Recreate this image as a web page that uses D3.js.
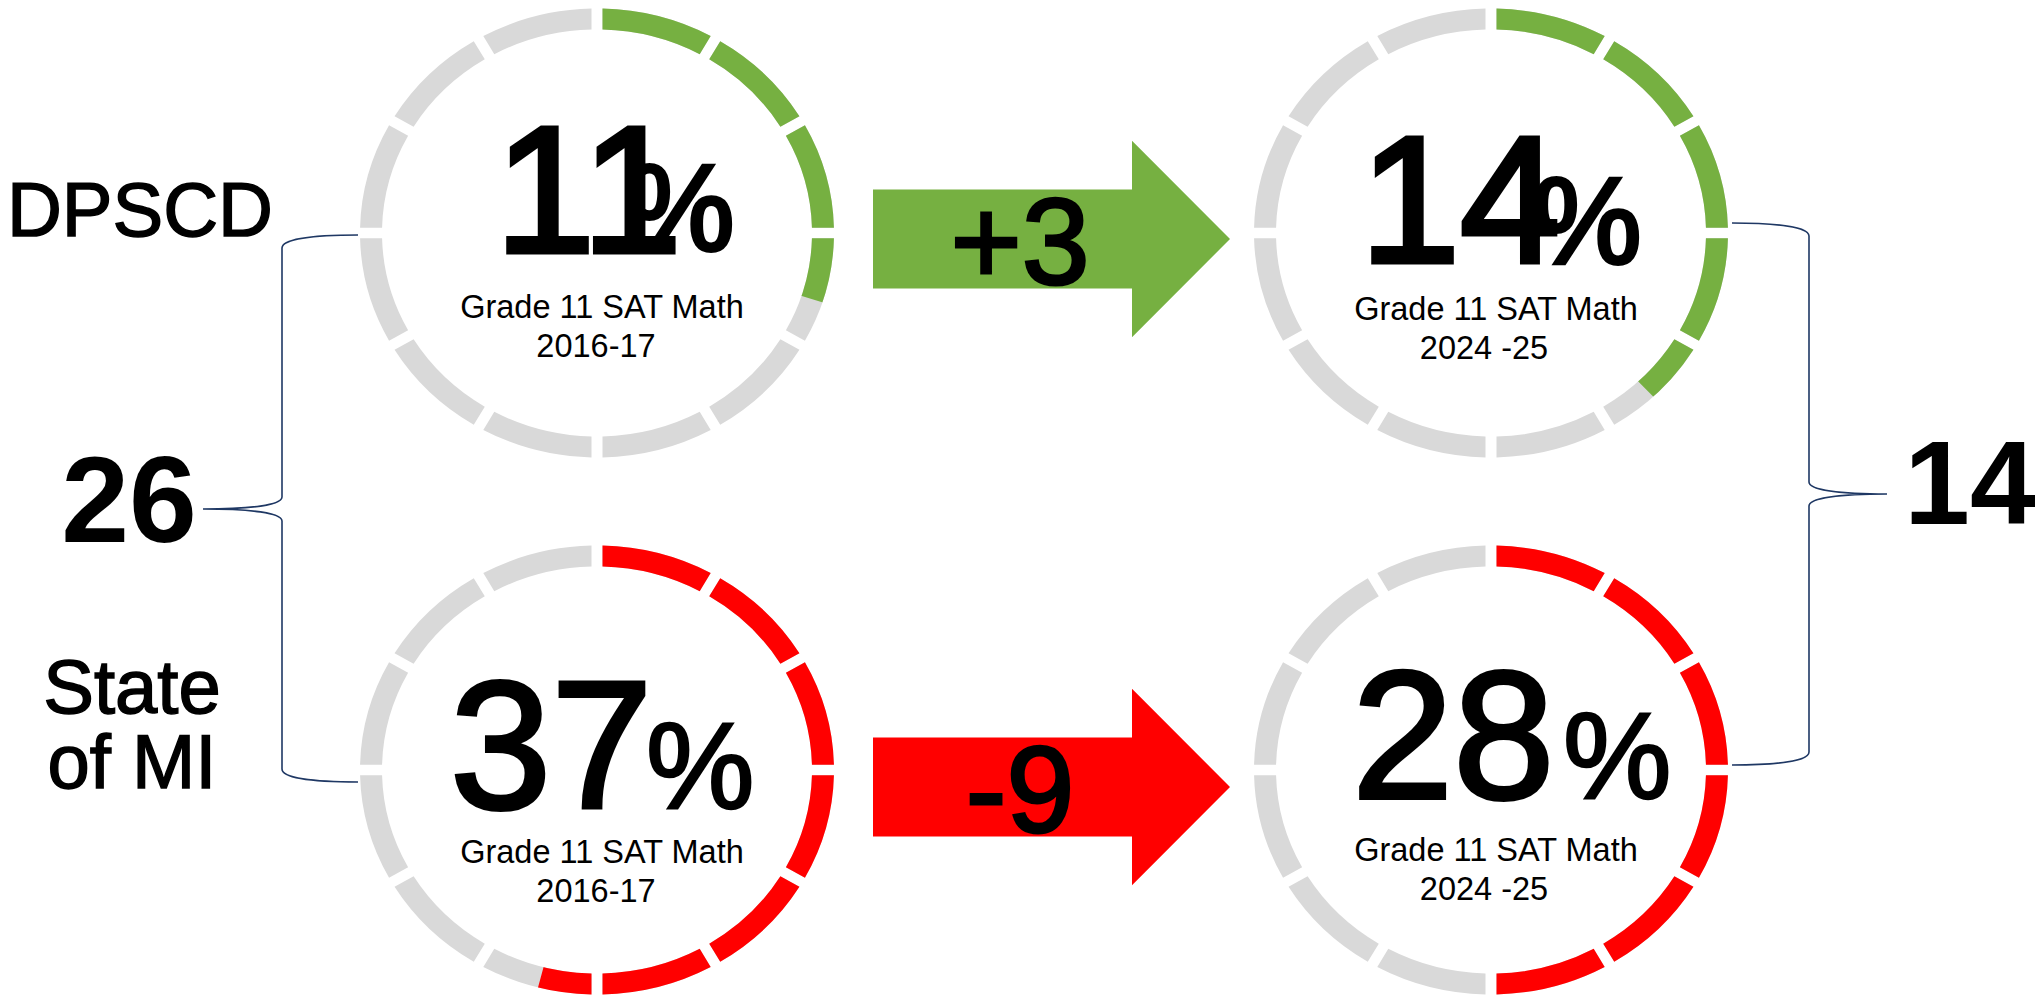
<!DOCTYPE html>
<html>
<head>
<meta charset="utf-8">
<script src="https://cdn.jsdelivr.net/npm/d3@7"></script>
<style>
  body { margin: 0; background: #fff; }
  svg { display: block; font-family: "Liberation Sans", Arial, sans-serif; }
</style>
</head>
<body>
<div id="graphic"></div>
<script>
// data
var groups = ["DPSCD", "State of MI"];
var years = ["2016-17", "2024-25"];
var yearLabels = ["2016-17", "2024 -25"];
var subject = "Grade 11 SAT Math";
var dpscdPct = [11, 14];
var statePct = [37, 28];
// how much of each dial ring is coloured
var dpscdRing = [0.30, 0.38];
var stateRing = [0.54, 0.50];

var groupColors = ["#76b041", "#ff0000"];
var ringGrey = "#d9d9d9";
var segmentCount = 12;

var width = 2038, height = 997;
var svg = d3.select("#graphic").append("svg").attr("width", width).attr("height", height);

var x = d3.scaleOrdinal().domain(years).range([597, 1491]);
var y = d3.scaleOrdinal().domain(groups).range([233, 770]);

var outerR = 237, innerR = 215, squash = 0.947;

// text nudges per dial (row-major: DPSCD 16-17, DPSCD 24-25, State 16-17, State 24-25)
var numDx = [-102, -131, -147, -139];
var numDy = [19, 29, 38, 28];
var pctDx = [29, 42, 49, 72];
var pctDy = [17, 30, 38, 28];
var subDy = [85, 87, 93, 91];
var yearDx = [-1, -7];

// thicken regular glyphs a little, the source font sits between regular and bold
function heavy(sel, w) {
  return sel.attr("stroke", "#000").attr("stroke-width", w).attr("stroke-linejoin", "miter");
}

var cells = [];
groups.forEach(function(g, gi) {
  var pcts = gi === 0 ? dpscdPct : statePct;
  var ring = gi === 0 ? dpscdRing : stateRing;
  years.forEach(function(yr, yi) {
    cells.push({ group: g, gi: gi, year: yr, yi: yi, pct: pcts[yi], ring: ring[yi], color: groupColors[gi] });
  });
});

var segs = d3.range(segmentCount).map(function(i) {
  return { startAngle: i * 2 * Math.PI / segmentCount, endAngle: (i + 1) * 2 * Math.PI / segmentCount };
});

var arc = d3.arc()
  .innerRadius(innerR)
  .outerRadius(outerR)
  .padAngle(11 / outerR)
  .padRadius(outerR);

var defs = svg.append("defs");

cells.forEach(function(d, i) {
  var cx = x(d.year), cy = y(d.group);
  var g = svg.append("g").attr("transform", "translate(" + cx + "," + cy + ") scale(1," + squash + ")");

  defs.append("clipPath").attr("id", "fill" + i)
    .append("path")
    .attr("d", d3.arc().innerRadius(0).outerRadius(outerR + 10).startAngle(0).endAngle(d.ring * 2 * Math.PI)());

  g.selectAll("path.bg").data(segs).enter().append("path")
    .attr("class", "bg")
    .attr("d", arc)
    .attr("fill", ringGrey);

  g.append("g").attr("clip-path", "url(#fill" + i + ")")
    .selectAll("path").data(segs).enter().append("path")
    .attr("d", arc)
    .attr("fill", d.color);

  heavy(svg.append("text")
    .attr("x", cx + numDx[i])
    .attr("y", cy + numDy[i])
    .attr("font-size", d.gi === 0 ? 180 : 182)
    .text(d.pct), d.gi === 0 ? 5 : 4);

  heavy(svg.append("text")
    .attr("x", cx + pctDx[i])
    .attr("y", cy + pctDy[i])
    .attr("font-size", 122)
    .text("%"), d.gi === 0 ? 4 : 2.5);

  svg.append("text")
    .attr("x", cx + 5)
    .attr("y", cy + subDy[i])
    .attr("text-anchor", "middle")
    .attr("font-size", 32.5)
    .text(subject);

  svg.append("text")
    .attr("x", cx + yearDx[d.yi])
    .attr("y", cy + subDy[i] + 39)
    .attr("text-anchor", "middle")
    .attr("font-size", 32.5)
    .text(yearLabels[d.yi]);
});

// change arrows between the two years
var arrowX0 = 873, arrowNeck = 1132, arrowTip = 1230, shaftH = 49.5, headH = 98.3;
var arrowDy = [6, 17];
groups.forEach(function(g, gi) {
  var pcts = gi === 0 ? dpscdPct : statePct;
  var change = pcts[1] - pcts[0];
  var cy = y(g) + arrowDy[gi];
  var p = d3.path();
  p.moveTo(arrowX0, cy - shaftH);
  p.lineTo(arrowNeck, cy - shaftH);
  p.lineTo(arrowNeck, cy - headH);
  p.lineTo(arrowTip, cy);
  p.lineTo(arrowNeck, cy + headH);
  p.lineTo(arrowNeck, cy + shaftH);
  p.lineTo(arrowX0, cy + shaftH);
  p.closePath();
  svg.append("path").attr("d", p.toString()).attr("fill", groupColors[gi]);
  heavy(svg.append("text")
    .attr("x", 1020)
    .attr("y", cy + 45)
    .attr("text-anchor", "middle")
    .attr("font-size", 122)
    .text((change > 0 ? "+" : "") + change), 3);
});

// group labels on the left
heavy(svg.append("text").attr("x", 140).attr("y", 236).attr("text-anchor", "middle")
  .attr("font-size", 76).text(groups[0]), 1.5);
var stateLabel = heavy(svg.append("text").attr("text-anchor", "middle")
  .attr("font-size", 76), 1.5);
groups[1].replace("State of", "State|of").split("|").forEach(function(w, i) {
  stateLabel.append("tspan").attr("x", 132).attr("y", 713 + i * 75).text(w);
});

// braces with the gap between state and district
function bracePath(e, s, t, y0, y1, y2) {
  var p = d3.path();
  p.moveTo(e, y0);
  p.bezierCurveTo(e + (s - e) * 0.6, y0, s, y0 + 4, s, y0 + 13);
  p.lineTo(s, y1 - 12);
  p.bezierCurveTo(s, y1 - 4, s + (t - s) * 0.4, y1, t, y1);
  p.bezierCurveTo(s + (t - s) * 0.4, y1, s, y1 + 4, s, y1 + 12);
  p.lineTo(s, y2 - 13);
  p.bezierCurveTo(s, y2 - 4, e + (s - e) * 0.6, y2, e, y2);
  return p.toString();
}

var braces = [
  { e: 358, s: 282, t: 203, y0: y(groups[0]) + 2, y1: 509, y2: y(groups[1]) + 12, lx: 129, ly: 542 },
  { e: 1732, s: 1809, t: 1887, y0: y(groups[0]) - 10, y1: 494, y2: y(groups[1]) - 5, lx: 1970, ly: 524 }
];
braces.forEach(function(b, i) {
  svg.append("path")
    .attr("d", bracePath(b.e, b.s, b.t, b.y0, b.y1, b.y2))
    .attr("fill", "none")
    .attr("stroke", "#1f3864")
    .attr("stroke-width", 1.6);
  svg.append("text")
    .attr("x", b.lx)
    .attr("y", b.ly)
    .attr("text-anchor", "middle")
    .attr("font-size", i === 0 ? 122 : 118)
    .attr("font-weight", 700)
    .text(statePct[i] - dpscdPct[i]);
});
</script>
</body>
</html>
